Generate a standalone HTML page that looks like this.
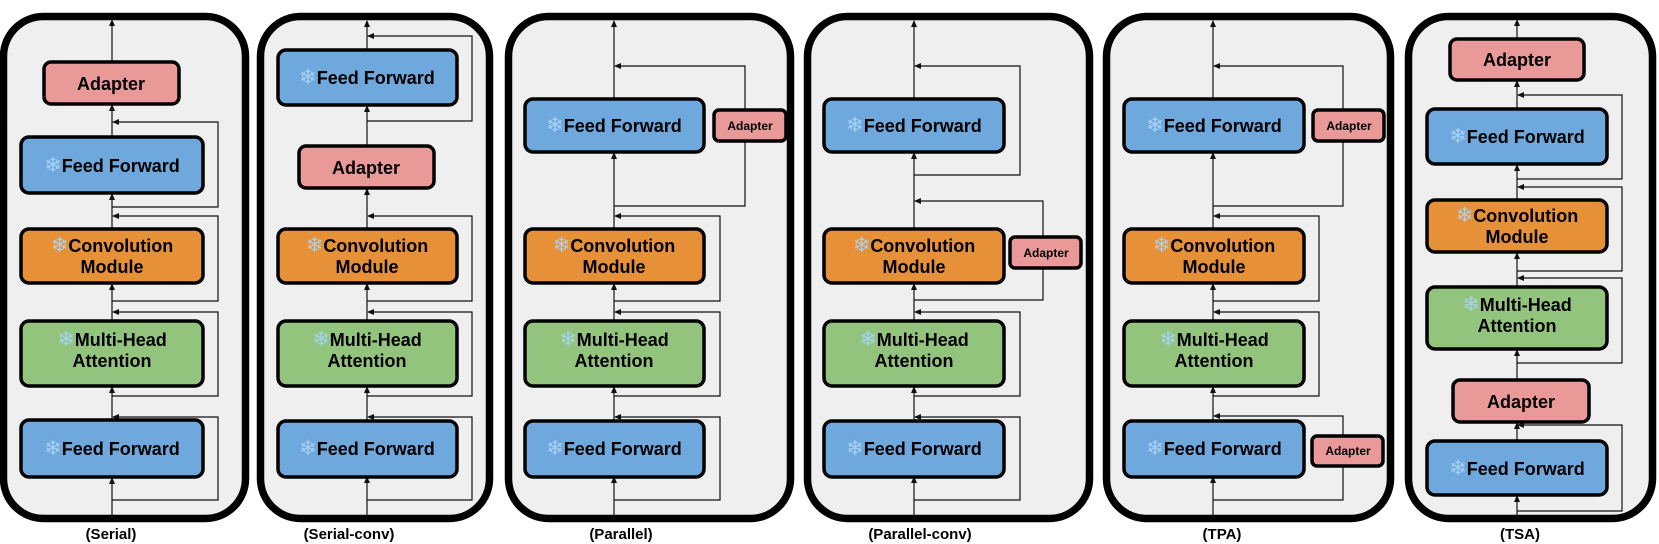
<!DOCTYPE html>
<html><head><meta charset="utf-8"><style>
html,body{margin:0;padding:0;background:#fff;}
svg{display:block;}
text{font-family:"Liberation Sans",Arial,sans-serif;font-weight:bold;fill:#000;}
.b{font-size:18px;}
.s{font-size:12px;}
.l{font-size:15px;}
.sf{fill:#a6d3f5;font-family:"DejaVu Sans",sans-serif;font-size:21px;}
.pan{fill:#efefef;stroke:#000;stroke-width:7.5;}
.bx{stroke:#000;stroke-width:3.5;}
.ff{fill:#6fa8dc}.cv{fill:#e69138}.mh{fill:#93c47d}.ad{fill:#ea9999}
.ln{fill:none;stroke:#111;stroke-width:1.2;}
</style></head><body>
<svg width="1659" height="544" viewBox="0 0 1659 544" xmlns="http://www.w3.org/2000/svg">
<defs><marker id="a" markerUnits="userSpaceOnUse" markerWidth="7" markerHeight="6" refX="6" refY="3" orient="auto"><path d="M0,0 L7,3 L0,6z" fill="#111"/></marker></defs>

<!-- Panels -->
<rect class="pan" x="3.5" y="16.5" width="242" height="502" rx="40"/>
<rect class="pan" x="260.5" y="16.5" width="229" height="502" rx="40"/>
<rect class="pan" x="508.5" y="16.5" width="282" height="502" rx="40"/>
<rect class="pan" x="807.5" y="16.5" width="282" height="502" rx="40"/>
<rect class="pan" x="1106.5" y="16.5" width="284" height="502" rx="40"/>
<rect class="pan" x="1408.5" y="16.5" width="244" height="502" rx="40"/>

<!-- Panel 1 Serial -->
<g class="ln" marker-end="url(#a)">
<path d="M112,518 V478"/><path d="M112,420 V387"/><path d="M112,321 V284"/><path d="M112,229 V194"/><path d="M112,137 V105"/><path d="M112,62 V20"/>
<path d="M112,500 H218 V417 H113"/><path d="M112,396 H218 V312 H113"/><path d="M112,301 H218 V216 H113"/><path d="M112,207 H218 V122 H113"/>
</g>
<rect class="bx ad" x="44" y="62" width="135" height="42" rx="7"/>
<text class="b" x="111" y="90" text-anchor="middle">Adapter</text>
<rect class="bx ff" x="21" y="137" width="182" height="56" rx="8"/>
<text class="b" x="112" y="172" text-anchor="middle"><tspan class="sf">❄</tspan>Feed Forward</text>
<rect class="bx cv" x="21" y="229" width="182" height="54" rx="8"/>
<text class="b" x="112" y="252" text-anchor="middle"><tspan class="sf">❄</tspan>Convolution</text>
<text class="b" x="112" y="273" text-anchor="middle">Module</text>
<rect class="bx mh" x="21" y="321" width="182" height="65" rx="8"/>
<text class="b" x="112" y="346" text-anchor="middle"><tspan class="sf">❄</tspan>Multi-Head</text>
<text class="b" x="112" y="367" text-anchor="middle">Attention</text>
<rect class="bx ff" x="21" y="420" width="182" height="57" rx="8"/>
<text class="b" x="112" y="455" text-anchor="middle"><tspan class="sf">❄</tspan>Feed Forward</text>
<text class="l" x="111" y="539" text-anchor="middle">(Serial)</text>

<!-- Panel 2 Serial-conv -->
<g class="ln" marker-end="url(#a)">
<path d="M367,518 V477"/><path d="M367,421 V387"/><path d="M367,321 V284"/><path d="M367,229 V189"/><path d="M367,146 V106"/><path d="M367,50 V21"/>
<path d="M367,500 H472 V417 H368"/><path d="M367,396 H472 V312 H368"/><path d="M367,301 H472 V216 H368"/><path d="M367,121 H472 V36 H368"/>
</g>
<rect class="bx ff" x="278" y="50" width="179" height="55" rx="8"/>
<text class="b" x="367" y="84" text-anchor="middle"><tspan class="sf">❄</tspan>Feed Forward</text>
<rect class="bx ad" x="299" y="146" width="135" height="42" rx="7"/>
<text class="b" x="366" y="174" text-anchor="middle">Adapter</text>
<rect class="bx cv" x="278" y="229" width="179" height="54" rx="8"/>
<text class="b" x="367" y="252" text-anchor="middle"><tspan class="sf">❄</tspan>Convolution</text>
<text class="b" x="367" y="273" text-anchor="middle">Module</text>
<rect class="bx mh" x="278" y="321" width="179" height="65" rx="8"/>
<text class="b" x="367" y="346" text-anchor="middle"><tspan class="sf">❄</tspan>Multi-Head</text>
<text class="b" x="367" y="367" text-anchor="middle">Attention</text>
<rect class="bx ff" x="278" y="421" width="179" height="56" rx="8"/>
<text class="b" x="367" y="455" text-anchor="middle"><tspan class="sf">❄</tspan>Feed Forward</text>
<text class="l" x="349" y="539" text-anchor="middle">(Serial-conv)</text>

<!-- Panel 3 Parallel -->
<g class="ln" marker-end="url(#a)">
<path d="M614,518 V477"/><path d="M614,421 V387"/><path d="M614,321 V284"/><path d="M614,229 V153"/><path d="M614,99 V21"/>
<path d="M614,500 H720 V417 H615"/><path d="M614,396 H720 V312 H615"/><path d="M614,301 H720 V216 H615"/>
<path d="M745,110 V66 H615"/>
</g>
<path class="ln" d="M614,206 H745 V141"/>
<rect class="bx ff" x="525" y="99" width="179" height="53" rx="8"/>
<text class="b" x="614" y="132" text-anchor="middle"><tspan class="sf">❄</tspan>Feed Forward</text>
<rect class="bx ad" x="714" y="110" width="72" height="31" rx="5"/>
<text class="s" x="750" y="130" text-anchor="middle">Adapter</text>
<rect class="bx cv" x="525" y="229" width="179" height="54" rx="8"/>
<text class="b" x="614" y="252" text-anchor="middle"><tspan class="sf">❄</tspan>Convolution</text>
<text class="b" x="614" y="273" text-anchor="middle">Module</text>
<rect class="bx mh" x="525" y="321" width="179" height="65" rx="8"/>
<text class="b" x="614" y="346" text-anchor="middle"><tspan class="sf">❄</tspan>Multi-Head</text>
<text class="b" x="614" y="367" text-anchor="middle">Attention</text>
<rect class="bx ff" x="525" y="421" width="179" height="56" rx="8"/>
<text class="b" x="614" y="455" text-anchor="middle"><tspan class="sf">❄</tspan>Feed Forward</text>
<text class="l" x="621" y="539" text-anchor="middle">(Parallel)</text>

<!-- Panel 4 Parallel-conv -->
<g class="ln" marker-end="url(#a)">
<path d="M914,518 V477"/><path d="M914,421 V387"/><path d="M914,321 V284"/><path d="M914,229 V153"/><path d="M914,99 V21"/>
<path d="M914,500 H1020 V417 H915"/><path d="M914,396 H1020 V312 H915"/><path d="M914,175 H1020 V66 H915"/>
<path d="M1043,237 V201 H915"/>
</g>
<path class="ln" d="M914,300 H1043 V268"/>
<rect class="bx ff" x="824" y="99" width="180" height="53" rx="8"/>
<text class="b" x="914" y="132" text-anchor="middle"><tspan class="sf">❄</tspan>Feed Forward</text>
<rect class="bx cv" x="824" y="229" width="180" height="54" rx="8"/>
<text class="b" x="914" y="252" text-anchor="middle"><tspan class="sf">❄</tspan>Convolution</text>
<text class="b" x="914" y="273" text-anchor="middle">Module</text>
<rect class="bx ad" x="1010" y="237" width="71" height="31" rx="5"/>
<text class="s" x="1046" y="257" text-anchor="middle">Adapter</text>
<rect class="bx mh" x="824" y="321" width="180" height="65" rx="8"/>
<text class="b" x="914" y="346" text-anchor="middle"><tspan class="sf">❄</tspan>Multi-Head</text>
<text class="b" x="914" y="367" text-anchor="middle">Attention</text>
<rect class="bx ff" x="824" y="421" width="180" height="56" rx="8"/>
<text class="b" x="914" y="455" text-anchor="middle"><tspan class="sf">❄</tspan>Feed Forward</text>
<text class="l" x="920" y="539" text-anchor="middle">(Parallel-conv)</text>

<!-- Panel 5 TPA -->
<g class="ln" marker-end="url(#a)">
<path d="M1213,518 V477"/><path d="M1213,421 V387"/><path d="M1213,321 V284"/><path d="M1213,229 V153"/><path d="M1213,99 V21"/>
<path d="M1213,396 H1319 V312 H1214"/><path d="M1213,301 H1319 V216 H1214"/>
<path d="M1343,110 V66 H1214"/><path d="M1343,436 V416 H1214"/>
</g>
<path class="ln" d="M1213,206 H1343 V141"/>
<path class="ln" d="M1213,500 H1343 V466"/>
<rect class="bx ff" x="1124" y="99" width="180" height="53" rx="8"/>
<text class="b" x="1214" y="132" text-anchor="middle"><tspan class="sf">❄</tspan>Feed Forward</text>
<rect class="bx ad" x="1313" y="110" width="71" height="31" rx="5"/>
<text class="s" x="1349" y="130" text-anchor="middle">Adapter</text>
<rect class="bx cv" x="1124" y="229" width="180" height="54" rx="8"/>
<text class="b" x="1214" y="252" text-anchor="middle"><tspan class="sf">❄</tspan>Convolution</text>
<text class="b" x="1214" y="273" text-anchor="middle">Module</text>
<rect class="bx mh" x="1124" y="321" width="180" height="65" rx="8"/>
<text class="b" x="1214" y="346" text-anchor="middle"><tspan class="sf">❄</tspan>Multi-Head</text>
<text class="b" x="1214" y="367" text-anchor="middle">Attention</text>
<rect class="bx ff" x="1124" y="421" width="180" height="56" rx="8"/>
<text class="b" x="1214" y="455" text-anchor="middle"><tspan class="sf">❄</tspan>Feed Forward</text>
<rect class="bx ad" x="1312" y="436" width="71" height="30" rx="5"/>
<text class="s" x="1348" y="455" text-anchor="middle">Adapter</text>
<text class="l" x="1222" y="539" text-anchor="middle">(TPA)</text>

<!-- Panel 6 TSA -->
<g class="ln" marker-end="url(#a)">
<path d="M1517,518 V496"/><path d="M1517,441 V423"/><path d="M1517,380 V350"/><path d="M1517,287 V253"/><path d="M1517,200 V165"/><path d="M1517,109 V81"/><path d="M1517,39 V20"/>
<path d="M1517,511 H1622 V425 H1518"/><path d="M1517,363 H1622 V278 H1518"/><path d="M1517,271 H1622 V187 H1518"/><path d="M1517,179 H1622 V95 H1518"/>
</g>
<rect class="bx ad" x="1450" y="39" width="134" height="41" rx="7"/>
<text class="b" x="1517" y="66" text-anchor="middle">Adapter</text>
<rect class="bx ff" x="1427" y="109" width="180" height="55" rx="8"/>
<text class="b" x="1517" y="143" text-anchor="middle"><tspan class="sf">❄</tspan>Feed Forward</text>
<rect class="bx cv" x="1427" y="200" width="180" height="52" rx="8"/>
<text class="b" x="1517" y="222" text-anchor="middle"><tspan class="sf">❄</tspan>Convolution</text>
<text class="b" x="1517" y="243" text-anchor="middle">Module</text>
<rect class="bx mh" x="1427" y="287" width="180" height="62" rx="8"/>
<text class="b" x="1517" y="311" text-anchor="middle"><tspan class="sf">❄</tspan>Multi-Head</text>
<text class="b" x="1517" y="332" text-anchor="middle">Attention</text>
<rect class="bx ad" x="1453" y="380" width="136" height="42" rx="7"/>
<text class="b" x="1521" y="408" text-anchor="middle">Adapter</text>
<rect class="bx ff" x="1427" y="441" width="180" height="54" rx="8"/>
<text class="b" x="1517" y="475" text-anchor="middle"><tspan class="sf">❄</tspan>Feed Forward</text>
<text class="l" x="1520" y="539" text-anchor="middle">(TSA)</text>
</svg>
</body></html>
